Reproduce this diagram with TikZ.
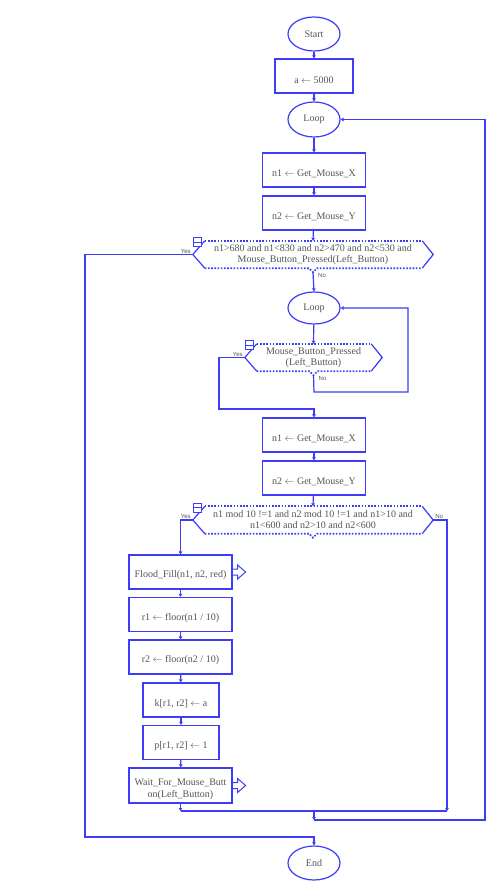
\documentclass[tikz,border=0pt]{standalone}
\usepackage{fontspec}
\setmainfont{Liberation Serif}
\setsansfont{Liberation Sans}
\usetikzlibrary{shapes.geometric,arrows.meta,calc}
\definecolor{fb}{RGB}{60,60,250}
\definecolor{ftxt}{RGB}{85,85,85}
\tikzset{
  term/.style={ellipse, draw=fb, line width=1.2pt, minimum width=52pt, minimum height=34pt, inner sep=0pt, text=ftxt, font=\fontsize{10}{11}\selectfont},
  proc/.style={draw=fb, line width=1.2pt, minimum height=34pt, inner sep=0pt},
  ptext/.style={text=ftxt, font=\fontsize{10}{12}\selectfont, align=center, inner sep=0pt},
  dtext/.style={text=ftxt, font=\fontsize{10}{11}\selectfont, align=center, inner sep=0pt, minimum height=27pt},
  conn/.style={draw=fb, line width=1.2pt, -{Triangle[length=3pt,width=3.5pt]}},
  plain/.style={draw=fb, line width=1.2pt},
  dotedge/.style={draw=fb, line width=1.7pt, dash pattern=on 1.6pt off 1.6pt},
  iconline/.style={draw=fb, line width=0.9pt},
  yn/.style={text=ftxt, font=\sffamily\fontsize{6}{7}\selectfont, inner sep=1pt},
}
% name, cx, cy, width, text
\newcommand\mydecision[5]{%
  \node[dtext, minimum width=#4pt] (#1) at (#2,#3) {#5};
  \draw[plain] ([xshift=12pt]#1.north west) -- (#1.west) -- ([xshift=12pt]#1.south west);
  \draw[plain] ([xshift=-11pt]#1.north east) -- (#1.east) -- ([xshift=-11pt]#1.south east);
  \draw[dotedge] ([xshift=12pt]#1.north west) -- ([xshift=-11pt]#1.north east);
  \draw[dotedge] ([xshift=12pt]#1.south west) -- ([xshift=-4pt]#1.south) -- ([yshift=-4pt]#1.south) -- ([xshift=4pt]#1.south) -- ([xshift=-11pt]#1.south east);
  \coordinate (#1-b) at ([yshift=-4pt]#1.south);
  \draw[iconline, fill=white] ([xshift=1pt,yshift=3pt]#1.north west) rectangle ([xshift=9pt,yshift=-6pt]#1.north west);
  \draw[iconline] ([xshift=1pt,yshift=-1.5pt]#1.north west) -- ([xshift=9pt,yshift=-1.5pt]#1.north west);
}
% block arrow icon at right side of a node
\newcommand\myblockarrow[1]{%
  \draw[plain, line width=1pt] ([yshift=3pt]#1.east) -- ++(5pt,0) -- ++(0,4pt) -- ++(8pt,-7pt) -- ++(-8pt,-7pt) -- ++(0,4pt) -- ([yshift=-3pt]#1.east);
}
\begin{document}
\begin{tikzpicture}[x=1pt,y=-1pt]
\useasboundingbox (0,0) rectangle (500,896);
\fill[white] (0,0) rectangle (500,896);

% top part
\node[term] (start) at (314,34) {Start};
\node[proc, minimum width=78pt] (init) at (314,76) {};
\node[ptext] (initt) at ([yshift=-4pt]init.center) {a $\leftarrow$ 5000};
\node[term, minimum height=35pt] (loop1) at (314,119.5) {Loop};
\node[proc, minimum width=103pt] (n1a) at (314,170) {};
\node[ptext] (n1at) at ([yshift=-4pt]n1a.center) {n1 $\leftarrow$ Get\_Mouse\_X};
\node[proc, minimum width=103pt] (n2a) at (314,213) {};
\node[ptext] (n2at) at ([yshift=-4pt]n2a.center) {n2 $\leftarrow$ Get\_Mouse\_Y};

\mydecision{d1}{313}{254.5}{240}{n1>680 and n1<830 and n2>470 and n2<530 and\\Mouse\_Button\_Pressed(Left\_Button)}

% inner loop
\node[term, minimum height=32pt] (loop2) at (314,308) {Loop};
\mydecision{d2}{313.5}{357.5}{137}{Mouse\_Button\_Pressed\\(Left\_Button)}

\node[proc, minimum width=103pt] (n1b) at (314,435) {};
\node[ptext] (n1bt) at ([yshift=-4pt]n1b.center) {n1 $\leftarrow$ Get\_Mouse\_X};
\node[proc, minimum width=103pt] (n2b) at (314,478) {};
\node[ptext] (n2bt) at ([yshift=-4pt]n2b.center) {n2 $\leftarrow$ Get\_Mouse\_Y};

\mydecision{d3}{313}{520}{240}{n1 mod 10 !=1 and n2 mod 10 !=1 and n1>10 and\\n1<600 and n2>10 and n2<600}

% left column
\node[proc, minimum width=103pt] (flood) at (180.5,572) {};
\node[ptext] (floodt) at ([yshift=-3.5pt]flood.center) {Flood\_Fill(n1, n2, red)};
\myblockarrow{flood}
\node[proc, minimum width=103pt] (r1) at (180.5,614.5) {};
\node[ptext] (r1t) at ([yshift=-3.5pt]r1.center) {r1 $\leftarrow$ floor(n1 / 10)};
\node[proc, minimum width=103pt] (r2) at (180.5,657) {};
\node[ptext] (r2t) at ([yshift=-3.5pt]r2.center) {r2 $\leftarrow$ floor(n2 / 10)};
\node[proc, minimum width=76pt] (k) at (181,700) {};
\node[ptext] (kt) at ([yshift=-3.5pt]k.center) {k[r1, r2] $\leftarrow$ a};
\node[proc, minimum width=76pt] (p) at (181,742.5) {};
\node[ptext] (pt) at ([yshift=-3.5pt]p.center) {p[r1, r2] $\leftarrow$ 1};
\node[proc, minimum width=103pt, minimum height=35pt] (wait) at (180.5,785.5) {};
\node[ptext] (waitt) at ([yshift=-3.5pt]wait.center) {Wait\_For\_Mouse\_Butt\\on(Left\_Button)};
\myblockarrow{wait}

\node[term] (end) at (314,863) {End};

% coordinates for connector bends
\coordinate (yl1) at (85,254.5);
\coordinate (yl2) at (85,837);
\coordinate (yl3) at (314,837);
\coordinate (nl2a) at (314,392);
\coordinate (nl2b) at (408,392);
\coordinate (yes2a) at (219,357.5);
\coordinate (yes2b) at (219,409);
\coordinate (yes2c) at (314,409);
\coordinate (yes3) at (180.5,520);
\coordinate (jl) at (180.5,811);
\coordinate (no3a) at (447,520);
\coordinate (jr) at (447,811);
\coordinate (jm) at (314,811);
\coordinate (jm2) at (314,820);
\coordinate (ro) at (485,820);

% connectors
\draw[conn] (start) -- (init);
\draw[conn] (init) -- (loop1);
\draw[conn] (loop1) -- (n1a);
\draw[conn] (n1a) -- (n2a);
\draw[conn] (n2a) -- (d1.north);
\draw[conn] (d1.west) -- (yl1) -- (yl2) -- (yl3) -- (end.north);
\draw[conn] (d1-b) -- (loop2.north);
\draw[conn] (loop2) -- (d2.north);
\draw[conn] (d2-b) -- (nl2a) -- (nl2b) |- (loop2.east);
\draw[conn] (d2.west) -- (yes2a) -- (yes2b) -- (yes2c) -- (n1b.north);
\draw[conn] (n1b) -- (n2b);
\draw[conn] (n2b) -- (d3.north);
\draw[conn] (d3.west) -- (yes3) -- (flood.north);
\draw[conn] (flood) -- (r1);
\draw[conn] (r1) -- (r2);
\draw[conn] (r2) -- (k);
\draw[conn] (k) -- (p);
\draw[conn] (p) -- (wait);
\draw[conn] (wait.south) -- (jl);
\draw[conn] (d3.east) -- (no3a) -- (jr);
\draw[plain] (jl) -- (jr);
\draw[conn] (jm) -- (jm2);
\draw[conn] (jm2) -- (ro) |- (loop1.east);

% Yes / No labels
\node[yn, anchor=south east] (y1) at ([xshift=-1pt]d1.west) {Yes};
\node[yn, anchor=north west] (no1) at ([xshift=4pt]d1-b) {No};
\node[yn, anchor=south east] (y2) at ([xshift=-1pt]d2.west) {Yes};
\node[yn, anchor=north west] (no2) at ([xshift=4pt]d2-b) {No};
\node[yn, anchor=south east] (y3) at ([xshift=-1pt]d3.west) {Yes};
\node[yn, anchor=south west] (no3) at ([xshift=1pt]d3.east) {No};
\end{tikzpicture}
\end{document}
